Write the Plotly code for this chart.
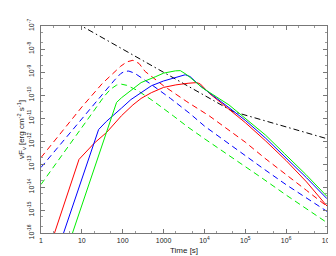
import plotly.graph_objects as go

# ---- data (log10 of time [s] and log10 of vF_v [erg cm^-2 s^-1]) ----
red_solid_logt = [0.2, 0.93, 1.3, 1.61, 1.97, 2.25, 2.45, 2.7, 3.0, 3.3, 3.6, 3.81, 3.9, 4.12, 4.6, 5.0, 5.5, 6.0, 6.5, 7.0]
red_solid_logf = [-16.7, -12.8, -12.1, -11.62, -10.9, -10.43, -10.15, -9.9, -9.67, -9.56, -9.49, -9.46, -9.52, -9.93, -10.62, -11.2, -12.0, -12.85, -13.78, -14.83]

blue_solid_logt = [0.4, 1.41, 1.6, 1.85, 1.97, 2.2, 2.45, 2.7, 3.0, 3.3, 3.53, 3.65, 3.88, 4.6, 5.0, 5.5, 6.0, 6.5, 7.0]
blue_solid_logf = [-16.8, -11.5, -11.15, -10.78, -10.57, -10.2, -9.88, -9.6, -9.39, -9.22, -9.12, -9.2, -9.58, -10.55, -11.1, -11.88, -12.72, -13.6, -14.51]

green_solid_logt = [0.6, 1.37, 1.85, 1.97, 2.25, 2.45, 2.81, 3.0, 3.29, 3.41, 3.57, 3.96, 4.6, 5.0, 5.5, 5.96, 6.48, 7.0]
green_solid_logf = [-16.9, -12.85, -10.32, -10.12, -9.74, -9.46, -9.2, -9.05, -8.95, -8.94, -9.12, -9.7, -10.43, -11.0, -11.75, -12.55, -13.45, -14.41]

red_dash_logt = [0.0, 0.5, 1.0, 1.5, 1.8, 1.95, 2.1, 2.25, 2.4, 2.55, 3.0, 3.57, 4.12, 4.5, 5.0, 5.48, 6.0, 6.5, 7.0]
red_dash_logf = [-12.72, -11.62, -10.52, -9.5, -9.02, -8.75, -8.56, -8.49, -8.63, -8.98, -9.6, -10.29, -10.91, -11.4, -12.05, -12.75, -13.45, -14.15, -14.84]

blue_dash_logt = [0.0, 0.5, 1.0, 1.5, 1.8, 1.95, 2.05, 2.15, 2.29, 2.69, 3.17, 3.64, 4.0, 4.5, 5.0, 5.44, 6.0, 6.5, 7.0]
blue_dash_logf = [-13.15, -12.08, -11.02, -9.98, -9.35, -9.07, -8.97, -8.96, -9.05, -9.53, -10.15, -10.8, -11.35, -12.0, -12.62, -13.2, -13.9, -14.48, -15.06]

green_dash_logt = [0.0, 0.6, 1.0, 1.33, 1.55, 1.7, 1.85, 1.97, 2.1, 2.37, 2.77, 3.24, 3.6, 4.0, 4.5, 5.0, 5.4, 6.0, 6.5, 7.0]
green_dash_logf = [-13.89, -12.4, -11.4, -10.6, -10.05, -9.75, -9.57, -9.53, -9.58, -9.81, -10.29, -10.91, -11.4, -11.9, -12.5, -13.1, -13.6, -14.35, -14.95, -15.55]

black_logt = [0.0, 4.7, 7.0]
black_logf = [-6.0, -10.72, -11.9]

x_tickvals = [1, 10, 100, 1000, 1e4, 1e5, 1e6, 1e7]
x_ticktext = ["1", "10", "100", "1000", "10<sup>4</sup>", "10<sup>5</sup>", "10<sup>6</sup>", "10<sup>7</sup>"]
y_exponents = [-16, -15, -14, -13, -12, -11, -10, -9, -8, -7]

# ---- figure ----
def p10(a):
    return [10 ** v for v in a]

fig = go.Figure()
series = [
    (black_logt, black_logf, "#000000", "6px,3px,1.5px,3px"),
    (red_dash_logt, red_dash_logf, "#ff0000", "6px,4px"),
    (blue_dash_logt, blue_dash_logf, "#0000ff", "6px,4px"),
    (green_dash_logt, green_dash_logf, "#00ee00", "6px,4px"),
    (red_solid_logt, red_solid_logf, "#ff0000", "solid"),
    (blue_solid_logt, blue_solid_logf, "#0000ff", "solid"),
    (green_solid_logt, green_solid_logf, "#00ee00", "solid"),
]
for lt, lf, col, dash in series:
    fig.add_trace(go.Scatter(x=p10(lt), y=p10(lf), mode="lines",
                             line=dict(color=col, width=1.0, dash=dash),
                             showlegend=False, hoverinfo="skip"))

font = dict(family="Liberation Sans, Arial, sans-serif", size=7, color="#222222")
axis_common = dict(type="log", showline=True, linecolor="#777777", linewidth=1,
                   mirror="allticks", ticks="inside", ticklen=4, tickcolor="#777777",
                   showgrid=False, zeroline=False, tickfont=font,
                   minor=dict(ticks="inside", ticklen=2, tickcolor="#999999", showgrid=False))

fig.update_xaxes(range=[0, 7], tickvals=x_tickvals, ticktext=x_ticktext, ticklabelstandoff=1,
                 title=dict(text="Time [s]", font=dict(family=font["family"], size=8, color="#222222"), standoff=3),
                 **axis_common)
fig.update_yaxes(range=[-16, -7], tickvals=[10.0 ** e for e in y_exponents],
                 ticktext=["10<sup>%d</sup>" % e for e in y_exponents], tickangle=-90,
                 ticklabelstandoff=3,
                 title=dict(text="νF<sub>ν</sub> [erg cm<sup>-2</sup> s<sup>-1</sup>]",
                            font=dict(family=font["family"], size=8, color="#222222"), standoff=1),
                 **axis_common)

fig.update_layout(width=336, height=256, margin=dict(l=33, r=11, t=14, b=25),
                  paper_bgcolor="white", plot_bgcolor="white")
fig.write_html("out.html")
